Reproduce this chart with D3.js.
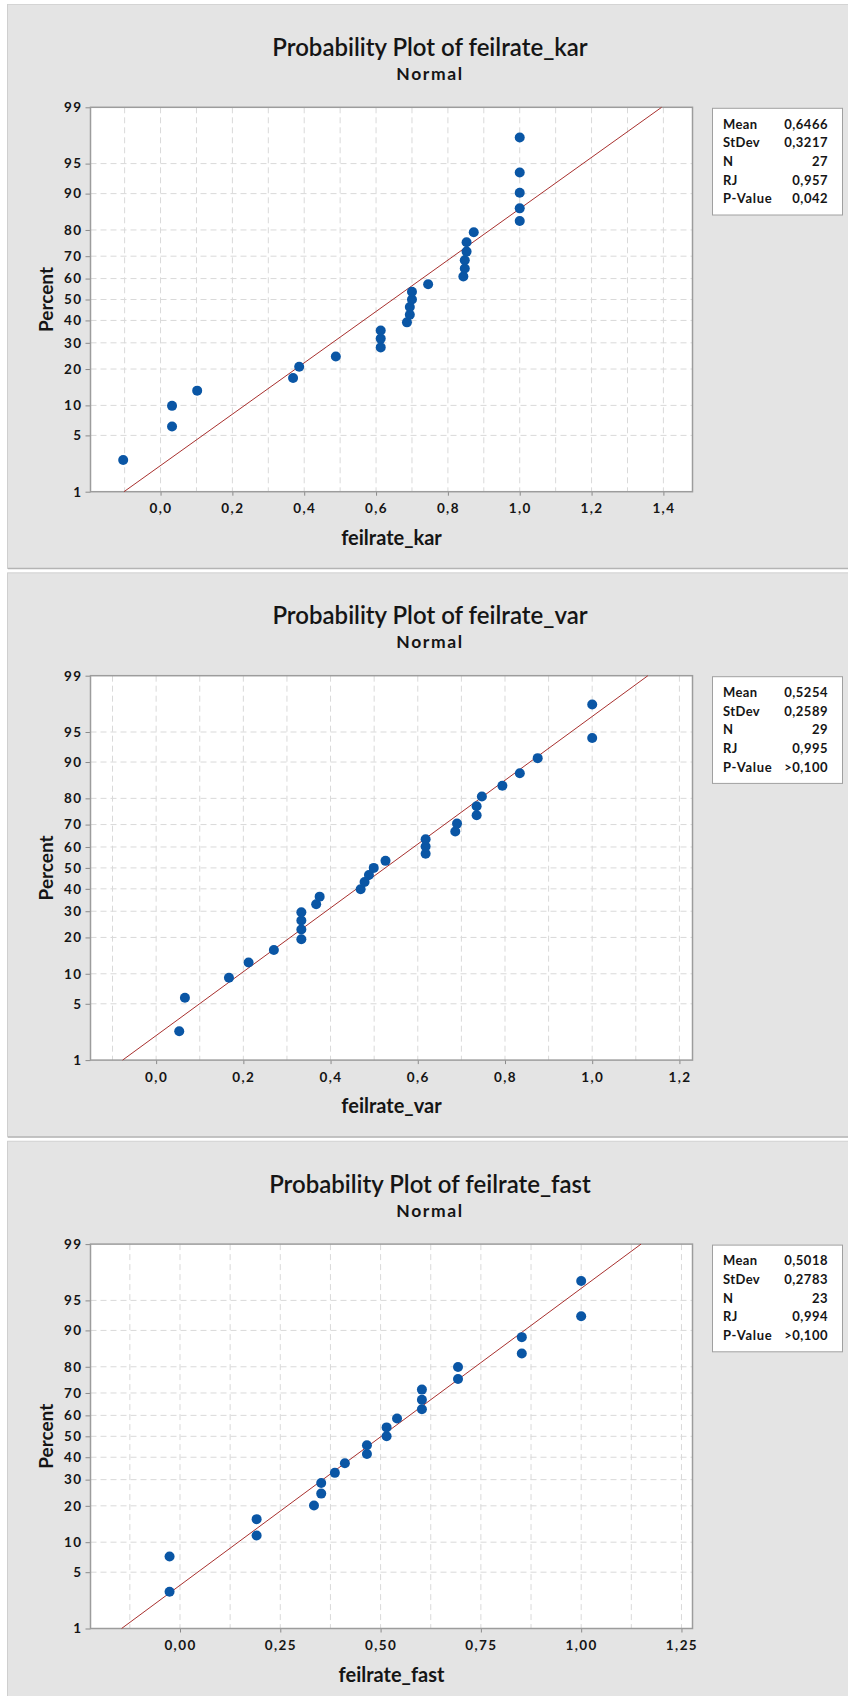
<!DOCTYPE html>
<html>
<head>
<meta charset="utf-8">
<script src="https://cdn.jsdelivr.net/npm/d3@7"></script>
<style>
  body { margin: 0; background: #fff; }
  svg text { font-family: Lato, "Open Sans", sans-serif; fill: #151515; }
</style>
</head>
<body>
<svg id="chart" width="848" height="1696"></svg>
<script>
// percent ticks on the probability axis
var yTicks = [1, 5, 10, 20, 30, 40, 50, 60, 70, 80, 90, 95, 99];
var statLabels = ["Mean", "StDev", "N", "RJ", "P-Value"];

// feilrate_kar
var karValues = [-0.104, 0.032, 0.032, 0.102, 0.369, 0.386, 0.488, 0.613, 0.613, 0.613, 0.686, 0.694, 0.694, 0.700,
  0.700, 0.745, 0.843, 0.847, 0.847, 0.852, 0.852, 0.872, 1.0, 1.0, 1.0, 1.0, 1.0];
var karPercents = [2.6, 6.2, 9.9, 13.5, 17.1, 20.8, 24.5, 28.1, 31.8, 35.4, 39.1, 42.7, 46.4, 50.0,
  53.7, 57.3, 61.0, 64.6, 68.3, 71.9, 75.6, 79.2, 82.9, 86.5, 90.2, 93.8, 97.5];
var karFit = [0.6466, 0.3217];
var karStats = ["0,6466", "0,3217", "27", "0,957", "0,042"];
var karDomain = [-0.195, 1.481];
var karGrid = [-0.1, 0, 0.1, 0.2, 0.3, 0.4, 0.5, 0.6, 0.7, 0.8, 0.9, 1.0, 1.1, 1.2, 1.3, 1.4];
var karTicks = [0, 0.2, 0.4, 0.6, 0.8, 1.0, 1.2, 1.4];

// feilrate_var
var varValues = [0.053, 0.066, 0.167, 0.212, 0.270, 0.333, 0.333, 0.333, 0.333, 0.367, 0.375, 0.469, 0.478, 0.488,
  0.499, 0.526, 0.618, 0.618, 0.618, 0.686, 0.690, 0.735, 0.735, 0.747, 0.794, 0.834, 0.875, 1.0, 1.0];
var varPercents = [2.4, 5.8, 9.2, 12.6, 16.0, 19.4, 22.8, 26.2, 29.6, 33.0, 36.4, 39.8, 43.2, 46.6,
  50.0, 53.4, 56.8, 60.2, 63.6, 67.0, 70.4, 73.8, 77.2, 80.6, 84.0, 87.4, 90.8, 94.2, 97.6];
var varFit = [0.5254, 0.2589];
var varStats = ["0,5254", "0,2589", "29", "0,995", ">0,100"];
var varDomain = [-0.1505, 1.230];
var varGrid = [-0.1, 0, 0.1, 0.2, 0.3, 0.4, 0.5, 0.6, 0.7, 0.8, 0.9, 1.0, 1.1, 1.2];
var varTicks = [0, 0.2, 0.4, 0.6, 0.8, 1.0, 1.2];

// feilrate_fast
var fastValues = [-0.026, -0.026, 0.191, 0.191, 0.334, 0.352, 0.352, 0.386, 0.411, 0.466, 0.466, 0.515,
  0.515, 0.541, 0.603, 0.603, 0.603, 0.693, 0.693, 0.852, 0.852, 1.0, 1.0];
var fastPercents = [3.0, 7.3, 11.5, 15.8, 20.1, 24.4, 28.6, 32.9, 37.2, 41.5, 45.7, 50.0,
  54.3, 58.5, 62.8, 67.1, 71.4, 75.6, 79.9, 84.2, 88.5, 92.7, 97.0];
var fastFit = [0.5018, 0.2783];
var fastStats = ["0,5018", "0,2783", "23", "0,994", ">0,100"];
var fastDomain = [-0.2231, 1.2775];
var fastGrid = [-0.125, 0, 0.125, 0.25, 0.375, 0.5, 0.625, 0.75, 0.875, 1.0, 1.125, 1.25];
var fastTicks = [0, 0.25, 0.5, 0.75, 1.0, 1.25];

// inverse normal cdf (Acklam)
function probit(p) {
  var a = [-3.969683028665376e+01, 2.209460984245205e+02, -2.759285104469687e+02, 1.383577518672690e+02, -3.066479806614716e+01, 2.506628277459239e+00],
      b = [-5.447609879822406e+01, 1.615858368580409e+02, -1.556989798598866e+02, 6.680131188771972e+01, -1.328068155288572e+01],
      c = [-7.784894002430293e-03, -3.223964580411365e-01, -2.400758277161838e+00, -2.549732539343734e+00, 4.374664141464968e+00, 2.938163982698783e+00],
      d = [7.784695709041462e-03, 3.224671290700398e-01, 2.445134137142996e+00, 3.754408661907416e+00];
  var q, r;
  if (p < 0.02425) {
    q = Math.sqrt(-2 * Math.log(p));
    return (((((c[0]*q+c[1])*q+c[2])*q+c[3])*q+c[4])*q+c[5]) / ((((d[0]*q+d[1])*q+d[2])*q+d[3])*q+1);
  }
  if (p > 1 - 0.02425) {
    q = Math.sqrt(-2 * Math.log(1 - p));
    return -(((((c[0]*q+c[1])*q+c[2])*q+c[3])*q+c[4])*q+c[5]) / ((((d[0]*q+d[1])*q+d[2])*q+d[3])*q+1);
  }
  q = p - 0.5; r = q * q;
  return (((((a[0]*r+a[1])*r+a[2])*r+a[3])*r+a[4])*r+a[5])*q / (((((b[0]*r+b[1])*r+b[2])*r+b[3])*r+b[4])*r+1);
}

var locale = d3.formatLocale({decimal: ",", thousands: ".", grouping: [3], currency: ["", ""]});

var svg = d3.select("#chart");
var panelTops = [4, 572.4, 1140.8];

var panels = [
  {name: "feilrate_kar", values: karValues, percents: karPercents, fit: karFit, stats: karStats,
   domain: karDomain, grid: karGrid, ticks: karTicks, fmt: locale.format(".1f")},
  {name: "feilrate_var", values: varValues, percents: varPercents, fit: varFit, stats: varStats,
   domain: varDomain, grid: varGrid, ticks: varTicks, fmt: locale.format(".1f")},
  {name: "feilrate_fast", values: fastValues, percents: fastPercents, fit: fastFit, stats: fastStats,
   domain: fastDomain, grid: fastGrid, ticks: fastTicks, fmt: locale.format(".2f")}
];

var plotLeft = 90.5, plotRight = 692.5, plotTop = 103.3, plotBottom = 487.7;

panels.forEach(function(p, k) {
  var top = panelTops[k];
  var ph = (k == 2 ? 1696 - top : 565);
  var g = svg.append("g").attr("transform", "translate(0," + top + ")");

  g.append("rect").attr("x", 8).attr("y", 0).attr("width", 840).attr("height", ph).attr("fill", "#e4e4e4");
  g.append("line").attr("x1", 7.5).attr("x2", 7.5).attr("y1", 0).attr("y2", ph).attr("stroke", "#cfcfcf");
  g.append("line").attr("x1", 8).attr("x2", 848).attr("y1", 0.5).attr("y2", 0.5).attr("stroke", "#d4d4d4");
  if (k < 2) g.append("line").attr("x1", 8).attr("x2", 848).attr("y1", ph - 0.5).attr("y2", ph - 0.5)
    .attr("stroke", "#b4b4b4").attr("stroke-width", 1.5);

  var x = d3.scaleLinear().domain(p.domain).range([plotLeft, plotRight]);
  var y = d3.scaleLinear().domain([probit(0.01), probit(0.99)]).range([plotBottom, plotTop]);
  var yp = function(v) { return y(probit(v / 100)); };

  g.append("text").attr("x", 430).attr("y", 52).attr("text-anchor", "middle")
    .style("font-size", "24px").style("font-weight", "600")
    .text("Probability Plot of " + p.name);
  g.append("text").attr("x", 430).attr("y", 76).attr("text-anchor", "middle")
    .style("font-size", "17.5px").style("font-weight", "700").style("letter-spacing", "1.6px")
    .text("Normal");

  g.append("rect").attr("x", plotLeft).attr("y", plotTop)
    .attr("width", plotRight - plotLeft).attr("height", plotBottom - plotTop).attr("fill", "#fff");

  // grid
  g.append("g").selectAll("line").data(p.grid.filter(function(v) { return x(v) > plotLeft + 1 && x(v) < plotRight - 1; }))
    .enter().append("line")
      .attr("x1", function(d) { return x(d); }).attr("x2", function(d) { return x(d); })
      .attr("y1", plotTop).attr("y2", plotBottom)
      .attr("stroke", "#d9d9d9").attr("stroke-dasharray", "6,4");
  g.append("g").selectAll("line").data(yTicks.slice(1, -1))
    .enter().append("line")
      .attr("x1", plotLeft).attr("x2", plotRight)
      .attr("y1", function(d) { return yp(d); }).attr("y2", function(d) { return yp(d); })
      .attr("stroke", "#d9d9d9").attr("stroke-dasharray", "6,4");

  // axes
  var yAxis = g.append("g").attr("transform", "translate(" + plotLeft + ",0)")
    .call(d3.axisLeft(y).tickValues(yTicks.map(function(v) { return probit(v / 100); }))
      .tickFormat(function(d, i) { return yTicks[i]; }).tickSize(5).tickPadding(3));
  var xAxis = g.append("g").attr("transform", "translate(0," + plotBottom + ")")
    .call(d3.axisBottom(x).tickValues(p.ticks).tickFormat(p.fmt).tickSize(4).tickPadding(8));
  [yAxis, xAxis].forEach(function(a) {
    a.select(".domain").remove();
    a.selectAll(".tick line").attr("stroke", "#8a8a8a");
    a.selectAll("text").style("font-size", "13.5px").style("font-weight", "700")
      .style("letter-spacing", "1.4px").attr("fill", "#151515").style("font-family", "Lato, sans-serif");
  });

  g.append("rect").attr("x", plotLeft).attr("y", plotTop)
    .attr("width", plotRight - plotLeft).attr("height", plotBottom - plotTop)
    .attr("fill", "none").attr("stroke", "#9c9c9c").attr("stroke-width", 1.5);

  // fitted line
  var line = d3.line()
    .x(function(d) { return x(p.fit[0] + p.fit[1] * probit(d / 100)); })
    .y(function(d) { return yp(d); });
  g.append("path").datum([1, 99]).attr("d", line)
    .attr("fill", "none").attr("stroke", "#a8302e").attr("stroke-width", 1);

  // points
  g.append("g").selectAll("circle").data(p.values)
    .enter().append("circle")
      .attr("cx", function(d) { return x(d); })
      .attr("cy", function(d, i) { return yp(p.percents[i]); })
      .attr("r", 5)
      .attr("fill", "#0a56a5");

  // axis titles
  g.append("text").attr("transform", "translate(53," + (plotTop + plotBottom) / 2 + ") rotate(-90)")
    .attr("text-anchor", "middle").style("font-size", "19px").style("font-weight", "700")
    .text("Percent");
  g.append("text").attr("x", (plotLeft + plotRight) / 2).attr("y", 541).attr("text-anchor", "middle")
    .style("font-size", "20px").style("font-weight", "700")
    .text(p.name);

  // stats box
  g.append("rect").attr("x", 712.5).attr("y", 104.3).attr("width", 130).attr("height", 106.7)
    .attr("fill", "#fff").attr("stroke", "#a0a0a0");
  statLabels.forEach(function(s, i) {
    var ty = 124.5 + i * 18.7;
    g.append("text").attr("x", 723).attr("y", ty).style("font-size", "13px").style("font-weight", "700")
      .style("letter-spacing", s == "P-Value" ? "0.7px" : "0.4px").text(s);
    g.append("text").attr("x", 828).attr("y", ty).attr("text-anchor", "end")
      .style("font-size", "13px").style("font-weight", "700").style("letter-spacing", "0.5px").text(p.stats[i]);
  });
});
</script>
</body>
</html>
